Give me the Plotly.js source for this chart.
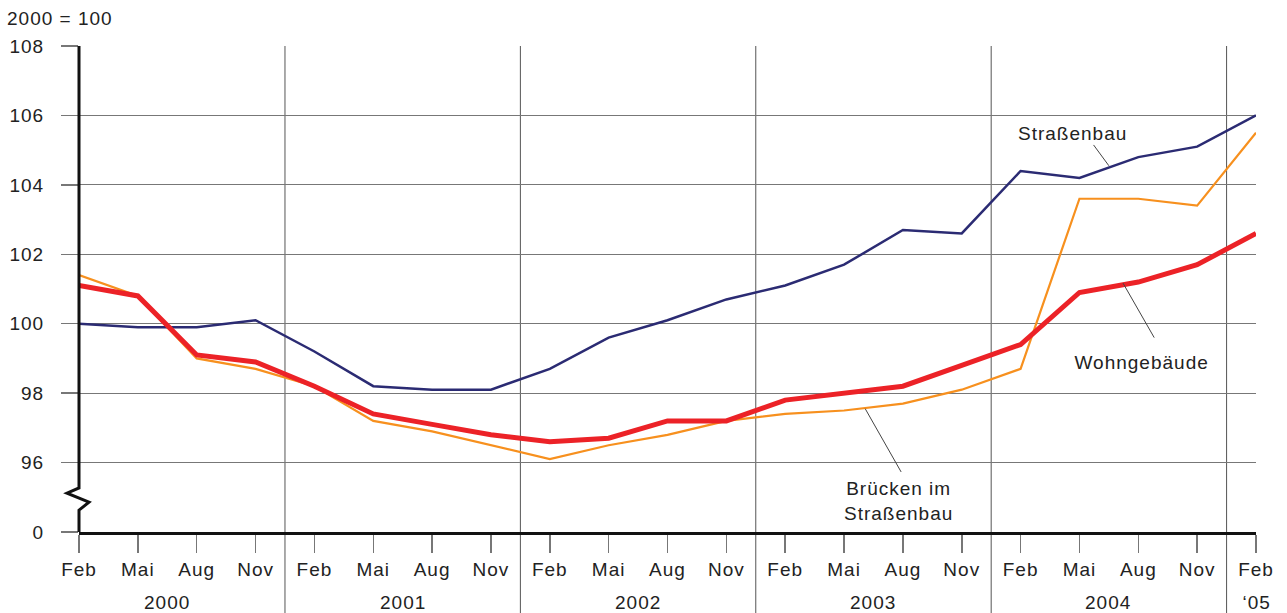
<!DOCTYPE html>
<html>
<head>
<meta charset="utf-8">
<script src="https://cdn.plot.ly/plotly-3.0.1.min.js"></script>
<style>
html,body{margin:0;padding:0;background:#fff;}
#chart{width:1287px;height:613px;}
#chart text{letter-spacing:1px;}
</style>
</head>
<body>
<div id="chart"></div>
<script>
// Quarter labels (Feb 2000 ... Feb 2005)
const months = ['Feb','Mai','Aug','Nov','Feb','Mai','Aug','Nov','Feb','Mai','Aug','Nov','Feb','Mai','Aug','Nov','Feb','Mai','Aug','Nov','Feb'];
const years = ['2000','2001','2002','2003','2004','\u201805'];
const yearPos = [1.5, 5.5, 9.5, 13.5, 17.5, 20];
const yearSeparators = [3.5, 7.5, 11.5, 15.5, 19.5];

const strassenbau = [100.0, 99.9, 99.9, 100.1, 99.2, 98.2, 98.1, 98.1, 98.7, 99.6, 100.1, 100.7, 101.1, 101.7, 102.7, 102.6, 104.4, 104.2, 104.8, 105.1, 106.0];
const bruecken    = [101.4, 100.8, 99.0, 98.7, 98.2, 97.2, 96.9, 96.5, 96.1, 96.5, 96.8, 97.2, 97.4, 97.5, 97.7, 98.1, 98.7, 103.6, 103.6, 103.4, 105.5];
const wohngebaeude= [101.1, 100.8, 99.1, 98.9, 98.2, 97.4, 97.1, 96.8, 96.6, 96.7, 97.2, 97.2, 97.8, 98.0, 98.2, 98.8, 99.4, 100.9, 101.2, 101.7, 102.6];

// y-axis: broken scale, the "0" tick sits one step below 96
const yTickVals = [94, 96, 98, 100, 102, 104, 106, 108];
const yTickText = ['0', '96', '98', '100', '102', '104', '106', '108'];

const xIdx = months.map((m, i) => i);
const FONT = 'Liberation Sans, Arial, sans-serif';
const FS = 19;

const traces = [
  {x: xIdx, y: bruecken, mode: 'lines', line: {color: '#f7901e', width: 2.2}, hoverinfo: 'skip'},
  {x: xIdx, y: strassenbau, mode: 'lines', line: {color: '#2b2b73', width: 2.5}, hoverinfo: 'skip'},
  {x: xIdx, y: wohngebaeude, mode: 'lines', line: {color: '#ec2227', width: 5}, hoverinfo: 'skip'}
];

const shapes = [];
yearSeparators.forEach(s => {
  shapes.push({type: 'line', xref: 'x', yref: 'paper', x0: s, x1: s, y0: -0.96, y1: 1, line: {color: '#555', width: 1}, layer: 'below'});
});
// left axis with break (paper-referenced so it is not clipped)
shapes.push({type: 'path', xref: 'paper', yref: 'y', xsizemode: 'pixel', xanchor: 0,
  path: 'M0,108.05 L0,95.27 L-12,95.12 L10,94.86 L0,94.63 L0,94', line: {color: '#111', width: 3}});
// annotation pointers
shapes.push({type: 'line', xref: 'x', yref: 'y', x0: 17.24, y0: 105.15, x1: 17.5, y1: 104.55, line: {color: '#444', width: 1}});
shapes.push({type: 'line', xref: 'x', yref: 'y', x0: 17.74, y0: 101.17, x1: 18.27, y1: 99.6, line: {color: '#444', width: 1}});
shapes.push({type: 'line', xref: 'x', yref: 'y', x0: 13.36, y0: 97.55, x1: 13.97, y1: 95.73, line: {color: '#444', width: 1}});

const tfont = {family: FONT, size: FS, color: '#222'};
const annotations = [];
years.forEach((y, i) => {
  annotations.push({x: yearPos[i], xref: 'x', y: 0, yref: 'paper', yanchor: 'middle', yshift: -70, text: y, showarrow: false, font: tfont});
});
annotations.push({x: 0, xref: 'paper', xshift: -69, xanchor: 'left', y: 1, yref: 'paper', yanchor: 'middle', yshift: 28, text: '2000 = 100', showarrow: false, font: tfont});
annotations.push({x: 16.88, xref: 'x', y: 105.49, yref: 'y', text: 'Straßenbau', showarrow: false, font: tfont});
annotations.push({x: 18.05, xref: 'x', y: 98.87, yref: 'y', text: 'Wohngebäude', showarrow: false, font: tfont});
annotations.push({x: 13.93, xref: 'x', y: 94.9, yref: 'y', text: 'Brücken im<br>Straßenbau', showarrow: false, font: tfont});

const layout = {
  width: 1287, height: 613,
  margin: {l: 79, r: 31, t: 46, b: 81},
  paper_bgcolor: '#fff', plot_bgcolor: '#fff',
  showlegend: false,
  font: tfont,
  xaxis: {
    range: [0, 20], tickvals: xIdx, ticktext: months,
    ticks: 'outside', ticklen: 18, tickcolor: '#777', tickwidth: 1.5,
    showgrid: false, zeroline: false,
    showline: true, linecolor: '#111', linewidth: 3,
    tickfont: tfont,
    fixedrange: true
  },
  yaxis: {
    range: [94, 108], tickvals: yTickVals, ticktext: yTickText,
    ticks: 'outside', ticklen: 17, tickcolor: '#777', tickwidth: 1.5,
    showgrid: true, gridcolor: '#777', gridwidth: 1.2,
    zeroline: false, showline: false,
    ticklabelstandoff: 13,
    tickfont: tfont,
    fixedrange: true
  },
  shapes: shapes,
  annotations: annotations
};

Plotly.newPlot('chart', traces, layout, {displayModeBar: false, staticPlot: true});
</script>
</body>
</html>
